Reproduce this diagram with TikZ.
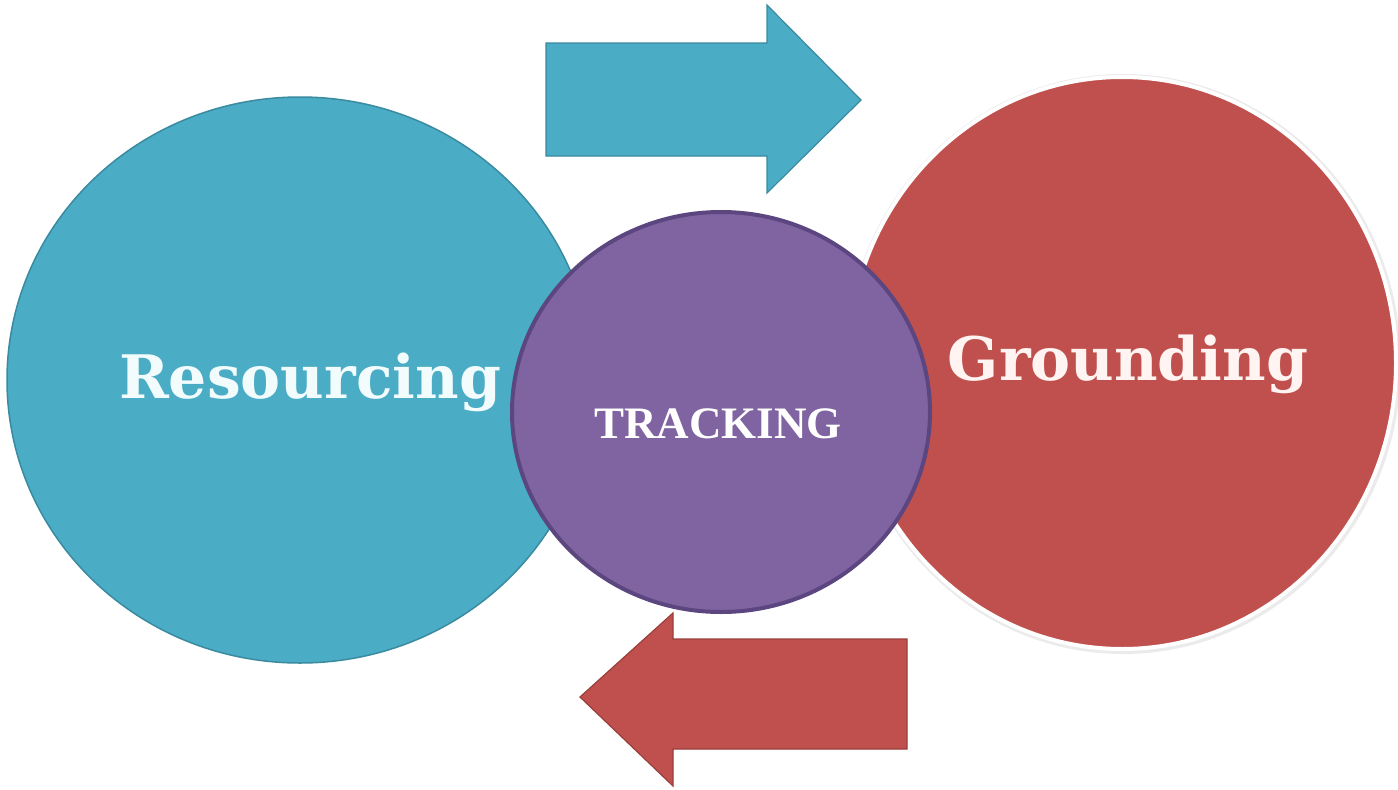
\documentclass[tikz,border=0pt]{standalone}
\usepackage{fontspec}
\newfontfamily\labelfont{DejaVu Serif}
\newfontfamily\trackfont{Liberation Serif}
\usetikzlibrary{shapes.geometric}
\definecolor{tealblue}{HTML}{4BACC6}
\definecolor{tealedge}{HTML}{3A8AA0}
\definecolor{brick}{HTML}{C0504D}
\definecolor{brickedge}{HTML}{9A3E3B}
\definecolor{violet}{HTML}{8064A2}
\definecolor{violetedge}{HTML}{5C4680}
\definecolor{paleblue}{HTML}{F2FCFD}
\definecolor{palered}{HTML}{FFF4F2}
\tikzset{
  blob/.style={ellipse, inner sep=0pt},
  bigword/.style={font=\labelfont\bfseries\fontsize{60}{60}\selectfont, anchor=base, inner sep=0pt},
  blockarrow/.style={line width=1.2pt, line join=miter},
}
\begin{document}
\begin{tikzpicture}[x=1pt,y=-1pt]
\useasboundingbox (0,0) rectangle (1398,790);
\fill[white] (0,0) rectangle (1398,790);
% arrows
\draw[blockarrow, fill=tealblue, draw=tealedge]
  (546,43) -- (767,43) -- (767,5) -- (861,100) -- (767,193) -- (767,156) -- (546,156) -- cycle;
\draw[blockarrow, fill=brick, draw=brickedge]
  (907,639) -- (673,639) -- (673,613) -- (580,697) -- (673,786) -- (673,749) -- (907,749) -- cycle;
% circles
\node[blob, fill=tealblue, draw=tealedge, line width=1.5pt,
      minimum width=586pt, minimum height=566pt] (res) at (300,380) {};
\node[blob, draw=black!8, line width=8pt,
      minimum width=548pt, minimum height=572pt] (gshadow) at (1123,364) {};
\node[blob, fill=brick, draw=white, line width=4pt,
      minimum width=548pt, minimum height=572pt] (gro) at (1122,363) {};
\node[blob, fill=violet, draw=violetedge, line width=4pt,
      minimum width=418pt, minimum height=400pt] (trk) at (721,412) {};
% labels
\node[bigword, text=paleblue] (restext) at (310,398) {Resourcing};
\node[bigword, text=palered] (grotext) at (1128,380) {Grounding};
\node[font=\trackfont\bfseries\fontsize{45}{45}\selectfont, text=white, anchor=base, inner sep=0pt] (trktext) at (718,438) {TRACKING};
\end{tikzpicture}
\end{document}
